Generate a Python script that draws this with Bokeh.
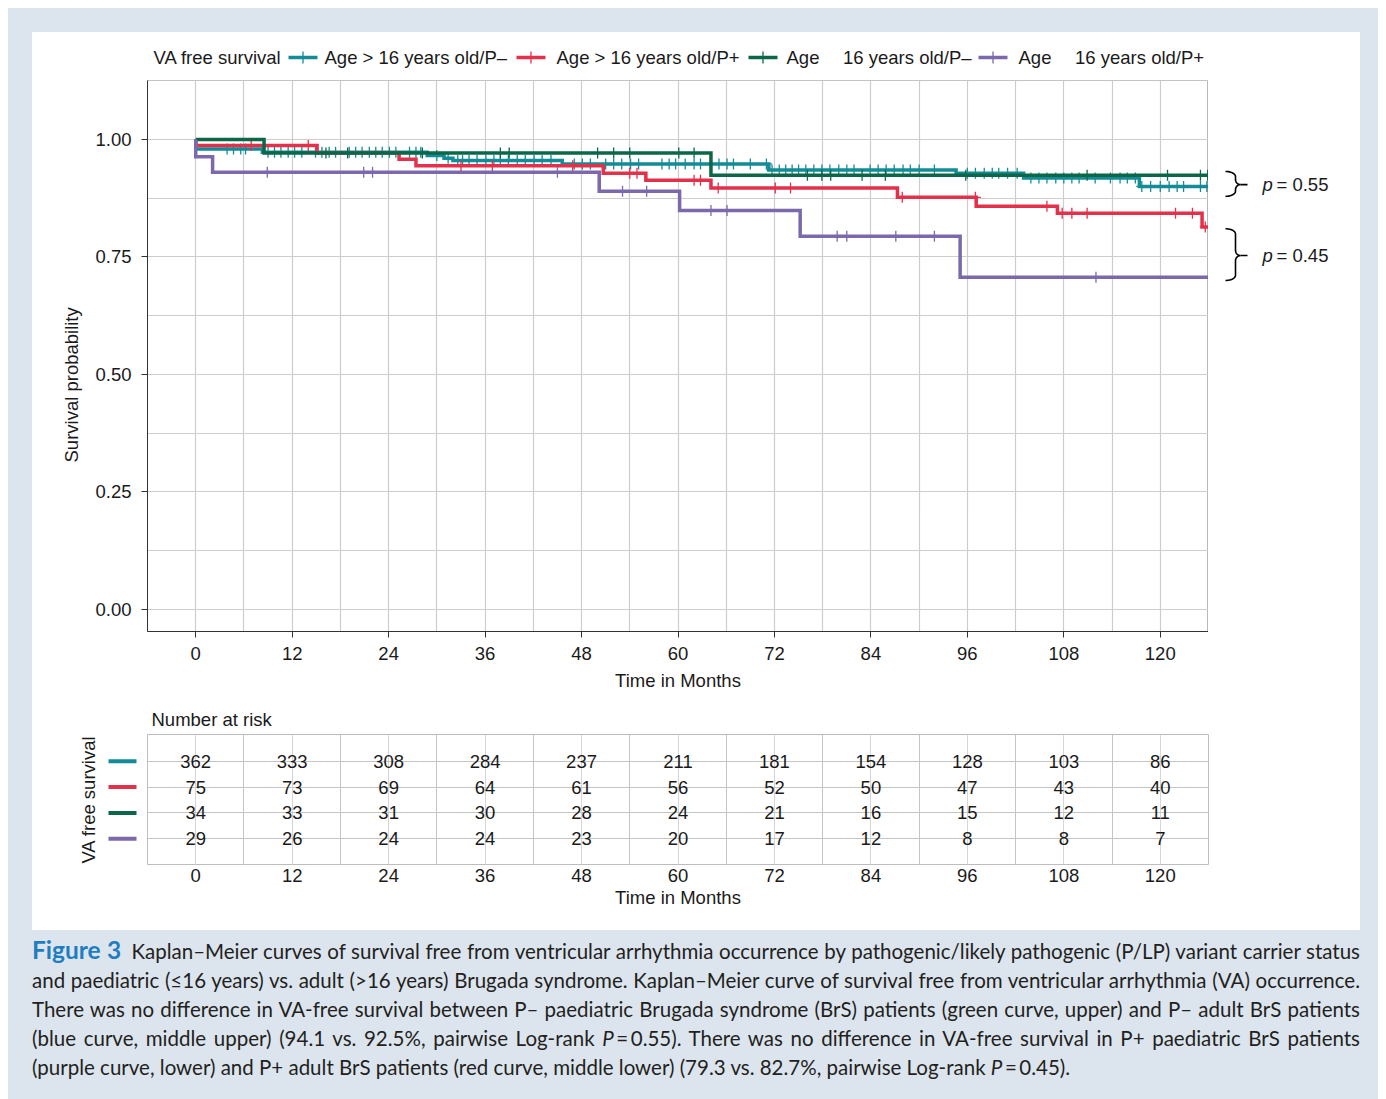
import numpy as np
from bokeh.plotting import figure
from bokeh.models import (Range1d, FixedTicker, Title, Div, NumeralTickFormatter, Spacer)
from bokeh.layouts import row, column
from bokeh.embed import file_html
from bokeh.resources import INLINE
from bokeh.core.properties import value

FONT = "Liberation Sans"
FS = "18.5px"
BG = "#dce5ee"
TXT = "#1a1a1a"
GRID = "#cdcdcd"

# ---------------- data ----------------
group_labels = ["Age > 16 years old/P\u2013", "Age > 16 years old/P+",
                "Age\u2003 16 years old/P\u2013", "Age\u2003 16 years old/P+"]
group_colors = ["#148c97", "#e3304b", "#0b6748", "#7b69ab"]
legend_title = "VA free survival"

# Kaplan-Meier steps (time where a level starts, survival level)
teal_t = [0, 0, 8.3, 28.8, 30.9, 32.0, 45.6, 71.3, 94.6, 103.0, 117.4, 126]
teal_s = [1.0, 0.980, 0.973, 0.966, 0.960, 0.955, 0.948, 0.935, 0.928, 0.918, 0.900, 0.900]
red_t = [0, 0, 15.1, 25.3, 27.4, 50.7, 56.0, 64.1, 87.3, 97.1, 107.2, 125.2, 126]
red_s = [1.0, 0.987, 0.971, 0.958, 0.944, 0.928, 0.913, 0.897, 0.877, 0.858, 0.843, 0.814, 0.814]
green_t = [0, 8.5, 64.1, 126]
green_s = [1.0, 0.971, 0.924, 0.924]
purple_t = [0, 0, 2.1, 50.2, 60.2, 75.2, 95.1, 126]
purple_s = [1.0, 0.963, 0.930, 0.890, 0.849, 0.794, 0.707, 0.707]

# censoring times
teal_c = [3.9, 4.7, 5.6, 6.2, 9.0, 9.8, 10.6, 11.5, 12.3, 13.2, 14.9, 15.7, 16.6, 17.4,
          19.1, 19.9, 20.7, 21.6, 22.4, 23.2, 24.1, 24.9, 26.6, 27.4, 28.0, 30.0, 31.4,
          32.6, 33.2, 34.0, 35.0, 36.1, 37.1, 37.9, 38.9, 40.0, 41.0, 42.1, 43.1, 44.2,
          47.1, 48.1, 49.1, 51.0, 52.0, 53.0, 54.1, 55.1, 58.0, 58.9, 59.7, 60.9, 62.0,
          62.8, 65.1, 66.1, 66.9, 69.0, 71.0, 71.7, 72.6, 73.4, 74.2, 75.0, 75.9, 76.9,
          77.9, 78.9, 80.0, 81.0, 81.9, 83.9, 84.9, 85.9, 86.9, 88.0, 88.9, 90.0, 91.9,
          96.0, 97.0, 98.1, 99.1, 99.9, 101.0, 102.2, 103.9, 104.9, 105.9, 107.0, 108.0,
          109.0, 109.9, 111.9, 113.8, 115.0, 115.9, 116.9, 117.7, 118.8, 120.0, 121.1,
          122.1, 122.9, 125.0, 125.8]
red_c = [6.9, 14.0, 33.0, 36.9, 46.9, 54.0, 54.9, 62.0, 62.8, 65.0, 72.1, 74.0, 87.9,
         97.0, 105.9, 107.8, 109.0, 110.9, 121.9, 124.0, 125.6]
green_c = [16.2, 18.9, 28.2, 37.9, 39.0, 50.0, 52.0, 54.0, 60.1, 62.0, 76.1, 77.9, 79.0,
           82.9, 85.8, 95.8, 110.9, 120.9, 125.0, 125.9]
purple_c = [8.9, 20.9, 22.0, 45.0, 53.1, 56.1, 64.1, 66.1, 79.8, 81.0, 87.1, 91.9, 112.0]

# number at risk
months = [0, 12, 24, 36, 48, 60, 72, 84, 96, 108, 120]
risk_teal = [362, 333, 308, 284, 237, 211, 181, 154, 128, 103, 86]
risk_red = [75, 73, 69, 64, 61, 56, 52, 50, 47, 43, 40]
risk_green = [34, 33, 31, 30, 28, 24, 21, 16, 15, 12, 11]
risk_purple = [29, 26, 24, 24, 23, 20, 17, 12, 8, 8, 7]
risk_rows = [4, 3, 2, 1]

# pairwise comparison braces
brace_top = [0.932, 0.810]
brace_tip = [0.904, 0.753]
brace_bottom = [0.879, 0.700]
p_values = ["= 0.55", "= 0.45"]

step_times = [teal_t, red_t, green_t, purple_t]
step_surv = [teal_s, red_s, green_s, purple_s]
censor_times = [teal_c, red_c, green_c, purple_c]
risk_all = [risk_teal, risk_red, risk_green, risk_purple]


def surv_at(tc, t, s):
    idx = np.searchsorted(np.asarray(t), np.asarray(tc), side="right") - 1
    return [s[i] for i in idx]


def style_common(fig):
    fig.background_fill_color = "white"
    fig.border_fill_color = "white"


LINE_W = 3.5
CROSS_SIZE = 11
CROSS_W = 1.3

# ---------------- legend strip (above the plot, page-pixel coordinates) ----------------
LEG_Y = 57
leg_title_x = 153
leg_swatch_x = [288, 516, 748, 978]
leg_swatch_w = 29
leg_label_x = [324, 556, 786, 1018]

lg = figure(width=1176, height=48, x_range=Range1d(147, 1208), y_range=Range1d(80, 32),
            title=None, output_backend="svg", toolbar_location=None,
            x_axis_location=None, y_axis_location=None,
            min_border_left=115, min_border_right=0, min_border_top=0, min_border_bottom=0)
style_common(lg)
lg.outline_line_color = None
lg.grid.visible = False
lg.text(x=[leg_title_x], y=[LEG_Y], text=[legend_title], text_font=value(FONT),
        text_font_size=FS, text_color=TXT, text_baseline="middle", text_align="left")
lg.segment(x0=leg_swatch_x, x1=[x + leg_swatch_w for x in leg_swatch_x],
           y0=[LEG_Y] * 4, y1=[LEG_Y] * 4, line_color=group_colors, line_width=LINE_W)
lg.scatter(x=[x + leg_swatch_w / 2 for x in leg_swatch_x], y=[LEG_Y] * 4, marker="cross",
           size=12, line_color=group_colors, line_width=CROSS_W)
lg.text(x=leg_label_x, y=[LEG_Y] * 4, text=group_labels, text_font=value(FONT),
        text_font_size=FS, text_color=TXT, text_baseline="middle", text_align="left")

# ---------------- main KM plot ----------------
x_range = Range1d(-6, 126)
y_range = Range1d(-0.047, 1.1255)

p = figure(width=1176, height=620, x_range=x_range, y_range=y_range, title=None,
           output_backend="svg", toolbar_location=None,
           min_border_left=115, min_border_right=0, min_border_top=0, min_border_bottom=69)
style_common(p)
p.outline_line_color = "#b8b8b8"

p.xaxis.ticker = FixedTicker(ticks=months, minor_ticks=list(range(-6, 127, 12)))
p.yaxis.ticker = FixedTicker(ticks=[0, 0.25, 0.5, 0.75, 1.0],
                             minor_ticks=[0.125, 0.375, 0.625, 0.875, 1.125])
p.yaxis.formatter = NumeralTickFormatter(format="0.00")
for g in (p.xgrid, p.ygrid):
    g.grid_line_color = GRID
    g.grid_line_width = 1.2
    g.minor_grid_line_color = GRID
    g.minor_grid_line_width = 1.2
p.axis.axis_line_color = "#333333"
p.axis.major_tick_line_color = "#333333"
p.axis.major_tick_out = 6
p.axis.major_tick_in = 0
p.axis.minor_tick_line_color = None
p.axis.major_label_text_font = FONT
p.axis.major_label_text_font_size = FS
p.axis.major_label_text_color = TXT
p.yaxis.major_label_standoff = 10
p.xaxis.major_label_standoff = 9
p.xaxis.axis_label = "Time in Months"
p.xaxis.axis_label_text_font = FONT
p.xaxis.axis_label_text_font_size = FS
p.xaxis.axis_label_text_font_style = "normal"
p.xaxis.axis_label_text_color = TXT
p.xaxis.axis_label_standoff = 7

for col, t, s, c in zip(group_colors, step_times, step_surv, censor_times):
    p.step(x=t, y=s, mode="after", line_color=col, line_width=LINE_W, line_join="miter")
    p.scatter(x=c, y=surv_at(c, t, s), marker="cross", size=CROSS_SIZE,
              line_color=col, line_width=CROSS_W)

p.add_layout(Title(text="Survival probability", align="left", offset=169, standoff=21,
                   text_font=FONT, text_font_size=FS, text_font_style="normal",
                   text_color=TXT), "left")

# ---------------- right annotation strip ----------------
pr = figure(width=152, height=668, x_range=Range1d(0, 152), y_range=y_range, title=None,
            output_backend="svg", toolbar_location=None,
            x_axis_location=None, y_axis_location=None,
            min_border_left=0, min_border_right=0, min_border_top=48, min_border_bottom=69)
style_common(pr)
pr.outline_line_color = None
pr.grid.visible = False

xs, ys = [], []
xl, xv, xt = 17, 27, 39
ry = 0.011
th = np.linspace(0, np.pi / 2, 12)
for top, tip, bot in zip(brace_top, brace_tip, brace_bottom):
    bx = list(xl + (xv - xl) * np.sin(th))
    by = list(top - ry + ry * np.cos(th))
    bx += list(xv + 5 - 5 * np.cos(th))
    by += list(tip + ry - ry * np.sin(th))
    bx += list(xv + 5 - 5 * np.sin(th))
    by += list(tip - ry + ry * np.cos(th))
    bx += list(xl + (xv - xl) * np.cos(th))
    by += list(bot + ry - ry * np.sin(th))
    xs.append(bx)
    ys.append(by)
pr.multi_line(xs=xs, ys=ys, line_color="black", line_width=1.6)
pr.segment(x0=[xv + 5] * 2, x1=[xt] * 2, y0=brace_tip, y1=brace_tip,
           line_color="black", line_width=1.6)
pr.text(x=[54] * 2, y=brace_tip, text=["p", "p"], text_font=value(FONT),
        text_font_size=FS, text_font_style="italic", text_color=TXT,
        text_baseline="middle", text_align="left")
pr.text(x=[68] * 2, y=brace_tip, text=p_values, text_font=value(FONT),
        text_font_size=FS, text_color=TXT, text_baseline="middle", text_align="left")

# ---------------- risk table ----------------
yr2 = Range1d(0, 5.04)

rl = figure(width=115, height=230, x_range=Range1d(0, 45), y_range=yr2, title=None,
            output_backend="svg", toolbar_location=None, x_axis_location=None,
            min_border_left=70, min_border_right=0, min_border_top=34, min_border_bottom=66)
style_common(rl)
rl.outline_line_color = None
rl.grid.visible = False
rl.yaxis.ticker = FixedTicker(ticks=[])
rl.yaxis.axis_line_color = None
rl.yaxis.major_tick_line_color = None
rl.yaxis.minor_tick_line_color = None
rl.yaxis.major_label_text_font_size = "0px"
rl.yaxis.major_label_standoff = 0
rl.yaxis.axis_label = "VA free survival"
rl.yaxis.axis_label_text_font = FONT
rl.yaxis.axis_label_text_font_size = FS
rl.yaxis.axis_label_text_font_style = "normal"
rl.yaxis.axis_label_text_color = TXT
rl.yaxis.axis_label_standoff = 4
rl.segment(x0=[6] * 4, x1=[34] * 4, y0=risk_rows, y1=risk_rows,
           line_color=group_colors, line_width=4)

rt = figure(width=1213, height=230, x_range=x_range, y_range=yr2, title=None,
            output_backend="svg", toolbar_location=None,
            min_border_left=0, min_border_right=152, min_border_top=34, min_border_bottom=66)
style_common(rt)
rt.outline_line_color = "#bdbdbd"
rt.yaxis.visible = False
rt.yaxis.ticker = FixedTicker(ticks=risk_rows)
rt.xaxis.ticker = FixedTicker(ticks=months, minor_ticks=list(range(-6, 127, 12)))
rt.xgrid.grid_line_color = "#d6d6d6"
rt.xgrid.minor_grid_line_color = "#c4c4c4"
rt.ygrid.grid_line_color = "#c4c4c4"
rt.xaxis.axis_line_color = None
rt.xaxis.major_tick_line_color = None
rt.xaxis.minor_tick_line_color = None
rt.xaxis.major_tick_out = 0
rt.xaxis.minor_tick_out = 0
rt.xaxis.major_label_text_font = FONT
rt.xaxis.major_label_text_font_size = FS
rt.xaxis.major_label_text_color = TXT
rt.xaxis.major_label_standoff = 4
rt.xaxis.axis_label = "Time in Months"
rt.xaxis.axis_label_text_font = FONT
rt.xaxis.axis_label_text_font_size = FS
rt.xaxis.axis_label_text_font_style = "normal"
rt.xaxis.axis_label_text_color = TXT
rt.xaxis.axis_label_standoff = 2
rt.add_layout(Title(text="Number at risk", align="left", offset=4, text_font=FONT,
                    text_font_size=FS, text_font_style="normal", text_color=TXT), "above")

tx, ty, tt = [], [], []
for rowv, counts in zip(risk_rows, risk_all):
    for m, n in zip(months, counts):
        tx.append(m)
        ty.append(rowv)
        tt.append(str(n))
rt.text(x=tx, y=ty, text=tt, text_font=value(FONT), text_font_size=FS,
        text_color=TXT, text_align="center", text_baseline="middle")

# ---------------- caption & layout ----------------
cap_lines = [
    '<span style="color:#1f7dc0;font-weight:bold;font-size:24.5px">Figure 3</span>&ensp;'
    'Kaplan\u2013Meier curves of survival free from ventricular arrhythmia occurrence by '
    'pathogenic/likely pathogenic (P/LP) variant carrier status',
    'and paediatric (\u226416 years) vs. adult (&gt;16 years) Brugada syndrome. '
    'Kaplan\u2013Meier curve of survival free from ventricular arrhythmia (VA) occurrence.',
    'There was no difference in VA-free survival between P\u2013 paediatric Brugada syndrome '
    '(BrS) patients (green curve, upper) and P\u2013 adult BrS patients',
    '(blue curve, middle upper) (94.1 vs. 92.5%, pairwise Log-rank <i>P</i>\u2009=\u20090.55). '
    'There was no difference in VA-free survival in P+ paediatric BrS patients',
    '(purple curve, lower) and P+ adult BrS patients (red curve, middle lower) '
    '(79.3 vs. 82.7%, pairwise Log-rank <i>P</i>\u2009=\u20090.45).',
]
html = ('<div style="margin-left:24px;width:1328px;padding-top:5px;font-family:Lato;'
        'font-size:20.5px;line-height:29px;color:#231f20">')
for i, ln in enumerate(cap_lines):
    if i < len(cap_lines) - 1:
        html += ('<div style="white-space:nowrap;text-align:justify;'
                 'text-align-last:justify">' + ln + '</div>')
    else:
        html += '<div style="white-space:nowrap;text-align:left">' + ln + '</div>'
html += '</div>'

bg = {"background-color": BG}
top_band = Div(text="", width=1370, height=24, margin=0, styles=bg)
left_band = Div(text="", width=24, height=898, margin=0, styles=bg)
right_band = Div(text="", width=18, height=898, margin=0, styles=bg)
caption = Div(text=html, width=1370, height=169, margin=0, styles=bg)

panel = column(row(column(lg, p), pr), row(rl, rt))
content = column(top_band, row(left_band, panel, right_band), caption)
layout = column(Spacer(width=1378, height=8),
                row(Spacer(width=8, height=1091), content))

open("out.html", "w").write(file_html(layout, INLINE))
